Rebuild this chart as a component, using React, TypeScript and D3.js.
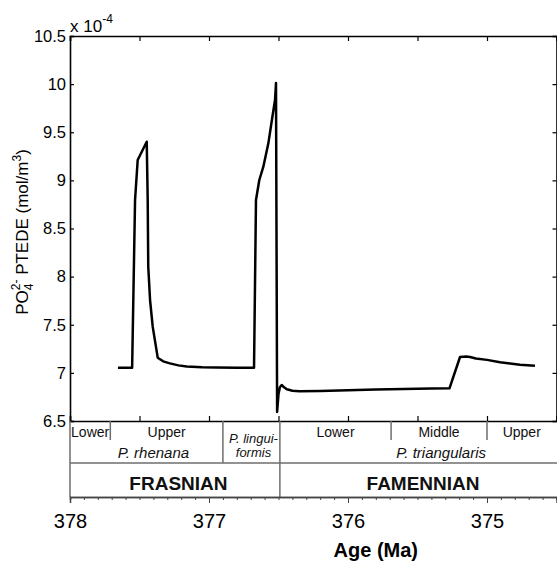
import React, { useEffect, useRef } from "react";
import * as d3 from "d3";

// PO4 PTEDE curve: age (Ma) and concentration (x 1e-4 mol/m3)
const ages = [
  377.655, 377.553, 377.532, 377.513, 377.448, 377.441, 377.437, 377.424, 377.405,
  377.369, 377.33, 377.281, 377.22, 377.16, 377.05, 376.945, 376.8, 376.676,
  376.662, 376.638, 376.609, 376.573, 376.545, 376.525, 376.518, 376.51, 376.5,
  376.49, 376.477, 376.46, 376.44, 376.4, 376.35, 376.2, 376.0, 375.8, 375.6,
  375.4, 375.27, 375.194, 375.15, 375.122, 375.08, 375.0, 374.906, 374.82,
  374.763, 374.655,
];
const po4 = [
  7.054, 7.054, 8.796, 9.212, 9.402, 8.796, 8.103, 7.757, 7.48,
  7.158, 7.12, 7.099, 7.078, 7.066, 7.058, 7.055, 7.054, 7.054,
  8.796, 9.004, 9.142, 9.385, 9.65, 9.835, 10.012, 6.594, 6.78,
  6.85, 6.874, 6.85, 6.83, 6.815, 6.81, 6.812, 6.82, 6.828, 6.833,
  6.837, 6.84, 7.165, 7.17, 7.165, 7.15, 7.135, 7.11, 7.095,
  7.085, 7.075,
];

const yTicks = [6.5, 7, 7.5, 8, 8.5, 9, 9.5, 10, 10.5];
const xMajor = [378, 377, 376, 375];

// conodont zones (first row), boundaries in Ma
const subZones = [
  { label: "Lower", from: 378, to: 377.71 },
  { label: "Upper", from: 377.71, to: 376.9 },
  { label: "Lower", from: 376.49, to: 375.69 },
  { label: "Middle", from: 375.69, to: 375.0 },
  { label: "Upper", from: 375.0, to: 374.5 },
];
const zones = [
  { label: "P. rhenana", at: 377.4 },
  { label: "P. triangularis", at: 375.33 },
];
const stages = [
  { label: "FRASNIAN", at: 377.22 },
  { label: "FAMENNIAN", at: 375.46 },
];
const linguiformisAt = 376.68;
const subBounds = [377.71, 375.69, 375.0];
const zoneBound = 376.9;
const stageBound = 376.49;

const W = 557,
  H = 564;
const FONT = "'Liberation Sans', Arial, sans-serif";

export default function App() {
  const svgRef = useRef<SVGSVGElement>(null);

  useEffect(() => {
    const svg = d3.select(svgRef.current);
    svg.selectAll("*").remove();

    const x = d3.scaleLinear().domain([378, 374.5]).range([70, 556.5]);
    const y = d3.scaleLinear().domain([6.5, 10.5]).range([421, 36]);

    const top = 421, // strat box top
      row1 = 440,
      row2 = 463,
      bottom = 497;
    const grey = "#6e6e6e";

    // plot box axes
    const fmt = (d: any) => String(d);
    const left = svg.append("g").attr("transform", `translate(70,0)`)
      .call(d3.axisLeft(y).tickValues(yTicks).tickSize(-4).tickPadding(4).tickFormat(fmt));
    left.selectAll("text").attr("font-size", 16.5).attr("font-family", FONT).attr("fill", "#000");

    svg.append("g").attr("transform", `translate(556.5,0)`)
      .call(d3.axisRight(y).tickValues(yTicks).tickSize(-4).tickFormat(() => ""));

    const xHalf = d3.range(0, 8).map((i) => 378 - i * 0.5);
    svg.append("g").attr("transform", `translate(0,36)`)
      .call(d3.axisTop(x).tickValues(xHalf).tickSize(-5).tickFormat(() => ""));
    svg.append("g").attr("transform", `translate(0,${top})`)
      .call(d3.axisBottom(x).tickValues(xHalf).tickSize(-5).tickFormat(() => ""));

    svg.selectAll(".domain").attr("stroke", "#000").attr("stroke-width", 1.6);
    svg.selectAll(".tick line").attr("stroke", "#000").attr("stroke-width", 1.2);

    // stratigraphy box
    const box = svg.append("g").attr("fill", "none").attr("stroke", grey).attr("stroke-width", 1.5);
    box.append("line").attr("x1", 70).attr("x2", 70).attr("y1", top).attr("y2", bottom);
    box.append("line").attr("x1", 70).attr("x2", W).attr("y1", row2).attr("y2", row2);
    subBounds.forEach((b) =>
      box.append("line").attr("x1", x(b)).attr("x2", x(b)).attr("y1", top).attr("y2", row1)
    );
    box.append("line").attr("x1", x(zoneBound)).attr("x2", x(zoneBound)).attr("y1", top).attr("y2", row2);
    box.append("line").attr("x1", x(stageBound)).attr("x2", x(stageBound)).attr("y1", top).attr("y2", bottom);

    const txt = svg.append("g").attr("font-family", FONT).attr("text-anchor", "middle").attr("fill", "#111");
    subZones.forEach((z) =>
      txt.append("text").attr("x", x((z.from + z.to) / 2)).attr("y", 437).attr("font-size", 14).text(z.label)
    );
    zones.forEach((z) =>
      txt.append("text").attr("x", x(z.at)).attr("y", 458).attr("font-size", 15)
        .attr("font-style", "italic").text(z.label)
    );
    txt.append("text").attr("x", x(linguiformisAt)).attr("y", 443).attr("font-size", 13)
      .attr("font-style", "italic").text("P. lingui-");
    txt.append("text").attr("x", x(linguiformisAt)).attr("y", 457).attr("font-size", 13)
      .attr("font-style", "italic").text("formis");
    stages.forEach((s) =>
      txt.append("text").attr("x", x(s.at)).attr("y", 490).attr("font-size", 19)
        .attr("font-weight", "bold").text(s.label)
    );

    // bottom age axis
    const minor = d3.range(0, 36).map((i) => +(378 - i * 0.1).toFixed(1));
    const bMinor = svg.append("g").attr("transform", `translate(0,${bottom})`)
      .call(d3.axisBottom(x).tickValues(minor).tickSize(3).tickFormat(() => ""));
    const bMajor = svg.append("g").attr("transform", `translate(0,${bottom})`)
      .call(d3.axisBottom(x).tickValues(xMajor).tickSize(6).tickPadding(11).tickFormat(fmt));
    [bMinor, bMajor].forEach((g) => {
      g.select(".domain").attr("stroke", "#444").attr("stroke-width", 1.5);
      g.selectAll(".tick line").attr("stroke", "#444").attr("stroke-width", 1);
    });
    bMajor.selectAll("text").attr("font-size", 20).attr("font-family", FONT).attr("fill", "#000");

    svg.append("text").attr("x", x(375.8)).attr("y", 557).attr("text-anchor", "middle")
      .attr("font-family", FONT).attr("font-size", 20).attr("font-weight", "bold").text("Age (Ma)");

    // y label
    const yl = svg.append("text").attr("transform", `translate(28,232) rotate(-90)`)
      .attr("text-anchor", "middle").attr("font-family", FONT).attr("font-size", 17);
    yl.append("tspan").text("PO");
    yl.append("tspan").attr("font-size", 12).attr("dy", 5).text("4");
    yl.append("tspan").attr("font-size", 12).attr("dx", -6.7).attr("dy", -13).text("2-");
    yl.append("tspan").attr("dy", 8).text(" PTEDE (mol/m");
    yl.append("tspan").attr("font-size", 12).attr("dy", -7).text("3");
    yl.append("tspan").attr("dy", 7).text(")");

    // exponent
    const ex = svg.append("text").attr("x", 70).attr("y", 32).attr("font-family", FONT).attr("font-size", 17);
    ex.append("tspan").text("x 10");
    ex.append("tspan").attr("font-size", 12).attr("dy", -9).text("-4");

    // curve
    const line = d3.line<number>().x((d, i) => x(ages[i])).y((d) => y(d));
    svg.append("path").datum(po4).attr("d", line).attr("fill", "none")
      .attr("stroke", "#000").attr("stroke-width", 2.5).attr("stroke-linejoin", "round");
  }, []);

  return (
    <svg
      ref={svgRef}
      width={W}
      height={H}
      style={{ position: "absolute", left: 0, top: 0, background: "#fff" }}
    />
  );
}
